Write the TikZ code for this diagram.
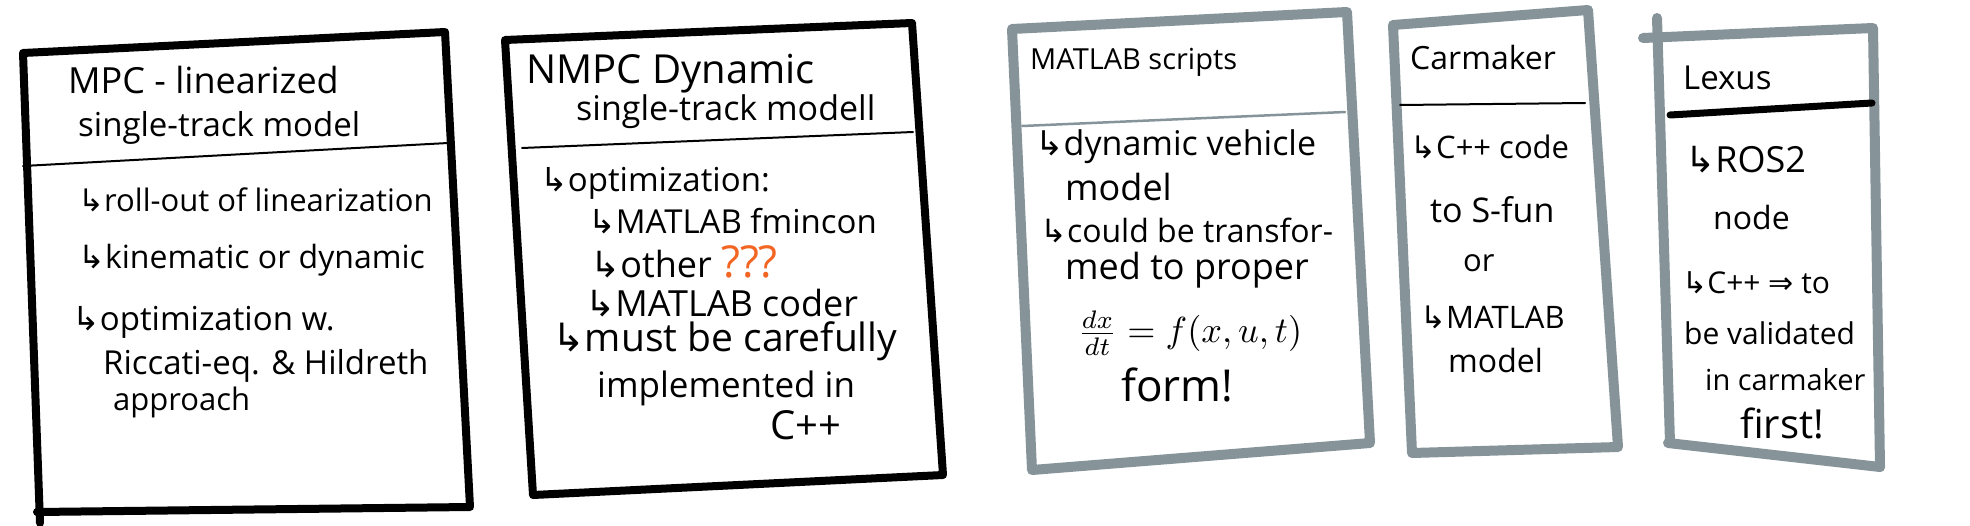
\documentclass[tikz,border=0pt]{standalone}
\usepackage{fontspec}
\usepackage{graphicx}
\setmainfont{Open Sans}
\newfontfamily\symfont{DejaVu Sans}
\newcommand\harr{{\symfont ↳}}
\newcommand\hsz[1]{\fontsize{#1pt}{#1pt}\selectfont}
\definecolor{sketchgray}{HTML}{86949A}
\definecolor{qorange}{HTML}{F26522}
\begin{document}
\begin{tikzpicture}[x=1pt,y=-1pt,
  blackbox/.style={draw=black,line width=8pt,line join=round,line cap=round},
  graybox/.style={draw=sketchgray,line width=10pt,line join=round,line cap=round},
  thindiv/.style={draw=black,line width=2pt,line cap=round},
  graydiv/.style={draw=sketchgray,line width=2.5pt,line cap=round},
  thickdiv/.style={draw=black,line width=7pt,line cap=round},
  txt/.style={anchor=west,inner sep=0pt}]
\useasboundingbox (0,0) rectangle (1970,525);
\fill[white] (0,0) rectangle (1970,525);

% ---------- box 1 ----------
\coordinate (b1a) at (23,53);
\coordinate (b1b) at (445,32);
\coordinate (b1c) at (470,507);
\coordinate (b1d) at (37,512);
\coordinate (b1e) at (40,523);
\draw[blackbox] (b1e) -- (b1a) -- (b1b) -- (b1c) -- (b1d);
\coordinate (d1a) at (23,166);
\coordinate (d1b) at (448,143);
\draw[thindiv] (d1a) -- (d1b);
\node[txt,font=\hsz{36}] (t11) at (68,80) {MPC - linearized};
\node[txt,font=\hsz{33}] (t12) at (78,128) {single-track model};
\node[txt,font=\hsz{31}] (t13) at (78,200) {\harr roll-out of linearization};
\node[txt,font=\hsz{32}] (t14) at (78,260) {\harr kinematic or dynamic};
\node[txt,font=\hsz{33}] (t15) at (72,322) {\harr optimization w.};
\node[txt,font=\hsz{33}] (t16) at (103,366) {Riccati-eq. \& Hildreth};
\node[txt,font=\hsz{31}] (t17) at (113,402) {approach};

% ---------- box 2 ----------
\coordinate (b2a) at (505,40);
\coordinate (b2b) at (912,23);
\coordinate (b2c) at (943,475);
\coordinate (b2d) at (533,495);
\draw[blackbox] (b2a) -- (b2b) -- (b2c) -- (b2d) -- cycle;
\coordinate (d2a) at (522,148);
\coordinate (d2b) at (913,132);
\draw[thindiv] (d2a) -- (d2b);
\node[txt,font=\hsz{40}] (t21) at (526,74) {NMPC Dynamic};
\node[txt,font=\hsz{34}] (t22) at (576,112) {single-track modell};
\node[txt,font=\hsz{33}] (t23) at (540,183) {\harr optimization:};
\node[txt,font=\hsz{33}] (t24) at (588,221) {\harr MATLAB fmincon};
\node[txt,font=\hsz{36}] (t25) at (590,262) {\harr other {\hsz{44}\textcolor{qorange}{???}}};
\node[txt,font=\hsz{36}] (t26) at (585,303) {\harr MATLAB coder};
\node[txt,font=\hsz{39}] (t27) at (552,341) {\harr must be carefully};
\node[txt,font=\hsz{35}] (t28) at (597,388) {implemented in};
\node[txt,font=\hsz{40}] (t29) at (770,425) {C++};

% ---------- box 3 ----------
\coordinate (b3a) at (1012,29);
\coordinate (b3b) at (1347,12);
\coordinate (b3c) at (1370,443);
\coordinate (b3d) at (1032,470);
\draw[graybox] (b3a) -- (b3b) -- (b3c) -- (b3d) -- cycle;
\coordinate (d3a) at (1022,126);
\coordinate (d3b) at (1345,112);
\draw[graydiv] (d3a) -- (d3b);
\node[txt,font=\hsz{29}] (t31) at (1030,62) {MATLAB scripts};
\node[txt,font=\hsz{34}] (t32) at (1035,147) {\harr dynamic vehicle};
\node[txt,font=\hsz{36}] (t33) at (1065,187) {model};
\node[txt,font=\hsz{32}] (t34) at (1040,230) {\harr could be transfor-};
\node[txt,font=\hsz{36}] (t35) at (1065,270) {med to proper};
\node[txt] (t36) at (1077,333) {\resizebox{225pt}{!}{$\frac{dx}{dt}=f(x,u,t)$}};
\node[txt,font=\hsz{44}] (t37) at (1121,385) {form!};

% ---------- box 4 ----------
\coordinate (b4a) at (1393,25);
\coordinate (b4b) at (1588,10);
\coordinate (b4c) at (1618,447);
\coordinate (b4d) at (1412,453);
\draw[graybox] (b4a) -- (b4b) -- (b4c) -- (b4d) -- cycle;
\coordinate (d4a) at (1400,105);
\coordinate (d4b) at (1585,103);
\draw[thindiv] (d4a) -- (d4b);
\node[txt,font=\hsz{32}] (t41) at (1410,57) {Carmaker};
\node[txt,font=\hsz{31}] (t42) at (1410,147) {\harr C++ code};
\node[txt,font=\hsz{34}] (t43) at (1430,210) {to S-fun};
\node[txt,font=\hsz{31}] (t44) at (1463,263) {or};
\node[txt,font=\hsz{31}] (t45) at (1420,317) {\harr MATLAB};
\node[txt,font=\hsz{32}] (t46) at (1448,360) {model};

% ---------- box 5 ----------
\coordinate (b5a) at (1643,38);
\coordinate (b5b) at (1873,28);
\coordinate (b5c) at (1880,467);
\coordinate (b5d) at (1668,443);
\coordinate (b5e) at (1657,18);
\coordinate (b5f) at (1670,443);
\draw[graybox] (b5a) -- (b5b) -- (b5c);
\draw[graybox] (b5e) -- (b5f);
\draw[graybox] (b5d) -- (b5c);
\coordinate (d5a) at (1670,115);
\coordinate (d5b) at (1872,103);
\draw[thickdiv] (d5a) -- (d5b);
\node[txt,font=\hsz{33}] (t51) at (1683,78) {Lexus};
\node[txt,font=\hsz{36}] (t52) at (1685,160) {\harr ROS2};
\node[txt,font=\hsz{32}] (t53) at (1713,217) {node};
\node[txt,font=\hsz{30}] (t54) at (1682,283) {\harr C++ {\symfont ⇒} to};
\node[txt,font=\hsz{30}] (t55) at (1684,333) {be validated};
\node[txt,font=\hsz{29}] (t56) at (1705,380) {in carmaker};
\node[txt,font=\hsz{40}] (t57) at (1740,423) {first!};
\end{tikzpicture}
\end{document}
